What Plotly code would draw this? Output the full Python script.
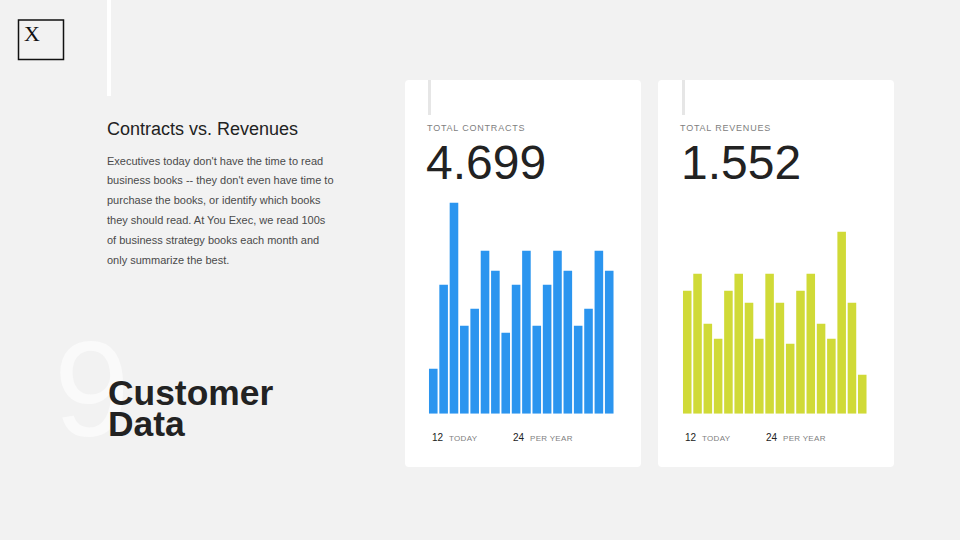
import plotly.graph_objects as go

W, H = 960, 540

# values
months = list(range(1, 19))
contracts = [45, 129, 211, 88, 105, 163, 143, 81, 129, 163, 88, 129, 163, 143, 88, 105, 163, 143]
revenues = [123, 140, 90, 75, 123, 140, 111, 75, 140, 111, 70, 123, 140, 90, 75, 182, 111, 39]

body_lines = [
    "Executives today don't have the time to read",
    "business books -- they don't even have time to",
    "purchase the books, or identify which books",
    "they should read. At You Exec, we read 100s",
    "of business strategy books each month and",
    "only summarize the best.",
]

BG = "#f2f2f2"
DARK = "#222222"
GREY = "#808080"
BLUE = "#2b95ef"
GREEN = "#d0da37"
SANS = "Liberation Sans"


def px(x):
    return x / W


def py(y):
    return 1 - y / H


def text(x, y, s, size, color=DARK, font=SANS, bold=False):
    # x and y in page pixels, y is the middle of the line
    return dict(
        xref="paper", yref="paper", x=px(x), y=py(y), text=f"<b>{s}</b>" if bold else s,
        xanchor="left", yanchor="middle", showarrow=False, align="left",
        borderpad=0, borderwidth=0,
        font=dict(family=font, size=size, color=color),
    )


def card(x0, y0, x1, y1, r=4):
    # rounded rectangle, paper coordinates so it stays under the bars
    pts = [
        ("M", x0 + r, y0), ("L", x1 - r, y0), ("Q", x1, y0, x1, y0 + r), ("L", x1, y1 - r),
        ("Q", x1, y1, x1 - r, y1), ("L", x0 + r, y1), ("Q", x0, y1, x0, y1 - r),
        ("L", x0, y0 + r), ("Q", x0, y0, x0 + r, y0),
    ]
    path = ""
    for p in pts:
        if p[0] == "Q":
            path += f"Q{px(p[1])},{py(p[2])} {px(p[3])},{py(p[4])} "
        else:
            path += f"{p[0]}{px(p[1])},{py(p[2])} "
    return dict(type="path", xref="paper", yref="paper", path=path + "Z",
                fillcolor="white", line_width=0, layer="below")


def block(x0, y0, x1, y1, color):
    return dict(type="rect", xref="paper", yref="paper", x0=px(x0), y0=py(y0), x1=px(x1), y1=py(y1),
                fillcolor=color, line_width=0, layer="below")


fig = go.Figure()
fig.add_trace(go.Bar(x=months, y=contracts, marker=dict(color=BLUE, line_width=0), xaxis="x", yaxis="y"))
fig.add_trace(go.Bar(x=months, y=revenues, marker=dict(color=GREEN, line_width=0), xaxis="x2", yaxis="y2"))

shapes = [
    card(405, 80, 641, 467),
    card(658, 80, 894, 467),
    block(107, 0, 111, 96, "white"),
    block(428, 80, 431, 115, "#e6e6e6"),
    block(682, 80, 685, 115, "#e6e6e6"),
    dict(type="rect", xref="paper", yref="paper", x0=px(18.5), y0=py(20), x1=px(63.5), y1=py(59.5),
         line=dict(color="#111111", width=1.5), fillcolor="rgba(0,0,0,0)"),
]

annotations = [
    text(24, 33, "X", 22, "#111111", "Liberation Serif"),
    text(107, 129, "Contracts vs. Revenues", 18),
    text(54, 389, "9", 136, "#fafafa"),
    text(108, 393, "Customer", 35.4, bold=True),
    text(108, 424, "Data", 35.4, bold=True),
]
for i, line in enumerate(body_lines):
    annotations.append(text(107, 160.5 + i * 19.9, line, 11, "#4a4a4a"))

for x0, x_total, title, total in [(427, 426, "TOTAL CONTRACTS", "4.699"), (680, 681, "TOTAL REVENUES", "1.552")]:
    annotations.append(text(x0, 128, title, 9, GREY))
    annotations.append(text(x_total, 163, total, 48))

for x0 in [432, 685]:
    annotations.append(text(x0, 437, "12", 10))
    annotations.append(text(x0 + 17, 438, "TODAY", 8, GREY))
    annotations.append(text(x0 + 81, 437, "24", 10))
    annotations.append(text(x0 + 98, 438, "PER YEAR", 8, GREY))

hidden = dict(visible=False, fixedrange=True)
fig.update_layout(
    width=W, height=H, margin=dict(l=0, r=0, t=0, b=0),
    paper_bgcolor=BG, plot_bgcolor="rgba(0,0,0,0)", showlegend=False, bargap=0.17,
    xaxis=dict(domain=[px(428.1), px(614.4)], range=[0.5, 18.5], **hidden),
    yaxis=dict(domain=[py(413.7), py(193.7)], range=[0, 220], **hidden),
    xaxis2=dict(domain=[px(682.1), px(867.4)], range=[0.5, 18.5], anchor="y2", **hidden),
    yaxis2=dict(domain=[py(413.7), py(193.7)], range=[0, 220], anchor="x2", **hidden),
    shapes=shapes, annotations=annotations,
)

# plotly has no letter spacing and the page has a default body margin
post = """
document.body.style.margin = '0';
document.querySelectorAll('.annotation-text').forEach(function (t) {
  var s = t.textContent;
  if (/^TOTAL/.test(s)) { t.style.letterSpacing = '0.8px'; }
  if (/^(TODAY|PER YEAR)/.test(s)) { t.style.letterSpacing = '0.3px'; }
});
"""
fig.write_html("out.html", post_script=post, config={"displayModeBar": False})
